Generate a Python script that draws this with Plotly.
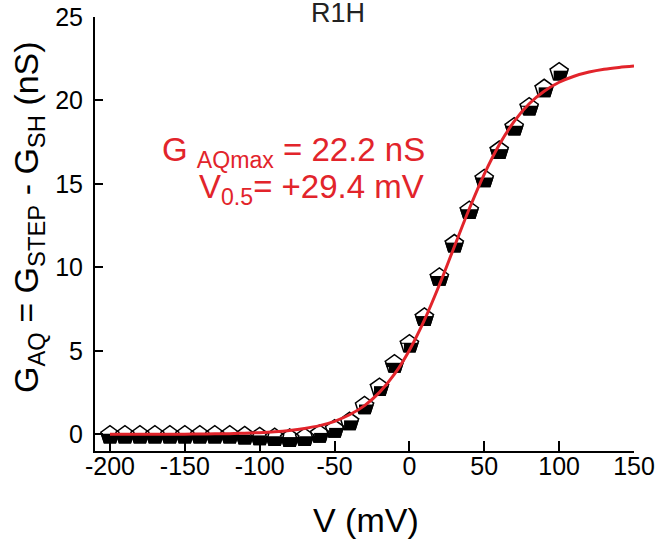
import plotly.graph_objects as go

voltage_mv = [-200, -190, -180, -170, -160, -150, -140, -130, -120, -110,
              -100, -90, -80, -70, -60, -50, -40, -30, -20, -10,
              0, 10, 20, 30, 40, 50, 60, 70, 80, 90, 100]
g_aq_ns = [-0.05, -0.05, -0.05, -0.05, -0.05, -0.05, -0.05, -0.05, -0.05, -0.1,
           -0.15, -0.2, -0.25, -0.2, 0.0, 0.3, 0.75, 1.7, 2.8, 4.2,
           5.4, 7.0, 9.4, 11.4, 13.4, 15.3, 17.0, 18.4, 19.6, 20.7, 21.7]

# Fitted Boltzmann curve
fit_v = [-200, -190, -180, -170, -160, -150, -140, -130, -120, -110,
         -100, -90, -80, -70, -60, -50, -40, -30, -20, -10,
         0, 10, 20, 30, 40, 50, 60, 70, 80, 90,
         100, 110, 120, 130, 140, 150]
fit_g = [0.0, 0.0, 0.0, 0.01, 0.01, 0.01, 0.02, 0.03, 0.04, 0.07,
         0.10, 0.15, 0.23, 0.35, 0.52, 0.78, 1.17, 1.72, 2.51, 3.60,
         5.04, 6.84, 8.95, 11.24, 13.51, 15.59, 17.35, 18.75, 19.80, 20.55,
         21.09, 21.45, 21.70, 21.87, 21.98, 22.06]

x_ticks = [-200, -150, -100, -50, 0, 50, 100, 150]
x_tick_text = ["-200", "-150", "-100", "-50", "0", "50", "100", "150"]
y_ticks = [0, 5, 10, 15, 20, 25]

RED = "#e2242b"
FONT = "Arial, Liberation Sans, sans-serif"
MS = 19

fig = go.Figure()
# black pentagon body
fig.add_trace(go.Scatter(x=voltage_mv, y=g_aq_ns, mode="markers",
                         marker=dict(symbol="pentagon", size=MS, color="black",
                                     line=dict(color="black", width=1.5)),
                         hoverinfo="skip", showlegend=False))
# white upper part
fig.add_trace(go.Scatter(x=voltage_mv, y=g_aq_ns, mode="markers",
                         marker=dict(symbol="square", size=MS, color="white",
                                     angle=180, standoff=MS / 2 + 1.4,
                                     line=dict(width=0)),
                         hoverinfo="skip", showlegend=False))
# outline
fig.add_trace(go.Scatter(x=voltage_mv, y=g_aq_ns, mode="markers",
                         marker=dict(symbol="pentagon-open", size=MS, color="black",
                                     line=dict(color="black", width=1.5)),
                         showlegend=False))
# fit
fig.add_trace(go.Scatter(x=fit_v, y=fit_g, mode="lines",
                         line=dict(color=RED, width=3, shape="spline"),
                         showlegend=False))

fig.update_layout(
    width=657, height=540,
    margin=dict(l=95, r=23, t=17, b=89),
    paper_bgcolor="white", plot_bgcolor="white",
    font=dict(family=FONT, color="black", size=25),
    xaxis=dict(range=[-210, 150], tickvals=x_ticks, ticktext=x_tick_text,
               ticks="inside", ticklen=10, automargin=False, ticklabelstandoff=-8,
               tickwidth=1.5, tickcolor="black", showline=True, linecolor="black",
               linewidth=2, showgrid=False, zeroline=False,
               tickfont=dict(size=25)),
    yaxis=dict(range=[-1, 25], tickvals=y_ticks, ticks="inside", ticklen=8,
               automargin=False, ticklabelstandoff=5,
               tickwidth=1.5, tickcolor="black", showline=True, linecolor="black",
               linewidth=2, showgrid=False, zeroline=False,
               tickfont=dict(size=25)),
    annotations=[
        dict(text="R1H", xref="paper", yref="paper", x=(338 - 95) / 539,
             y=1 + 4 / 434, xanchor="center", yanchor="middle", showarrow=False,
             font=dict(size=27, color="#222")),
        dict(text="G <sub>AQmax</sub> = 22.2 nS", xref="paper", yref="paper",
             x=(427 - 95) / 539, y=(451 - 152) / 434, xanchor="right", yanchor="middle",
             showarrow=False, font=dict(size=33, color=RED)),
        dict(text="V<sub>0.5</sub>= +29.4 mV", xref="paper", yref="paper",
             x=(426 - 95) / 539, y=(451 - 189) / 434, xanchor="right", yanchor="middle",
             showarrow=False, font=dict(size=33, color=RED)),
        dict(text="G<sub>AQ</sub> = G<sub>STEP</sub> - G<sub>SH</sub> (nS)",
             xref="paper", yref="paper", x=(28 - 95) / 539, y=(451 - 217) / 434,
             xanchor="center", yanchor="middle", textangle=-90, showarrow=False,
             font=dict(size=34, color="black")),
        dict(text="V (mV)", xref="paper", yref="paper", x=(366 - 95) / 539,
             y=(451 - 520) / 434, xanchor="center", yanchor="middle",
             showarrow=False, font=dict(size=34, color="black")),
    ],
)

fig.write_html("out.html", config={"displayModeBar": False},
               post_script="document.body.style.margin='0';document.body.style.overflow='hidden';")
